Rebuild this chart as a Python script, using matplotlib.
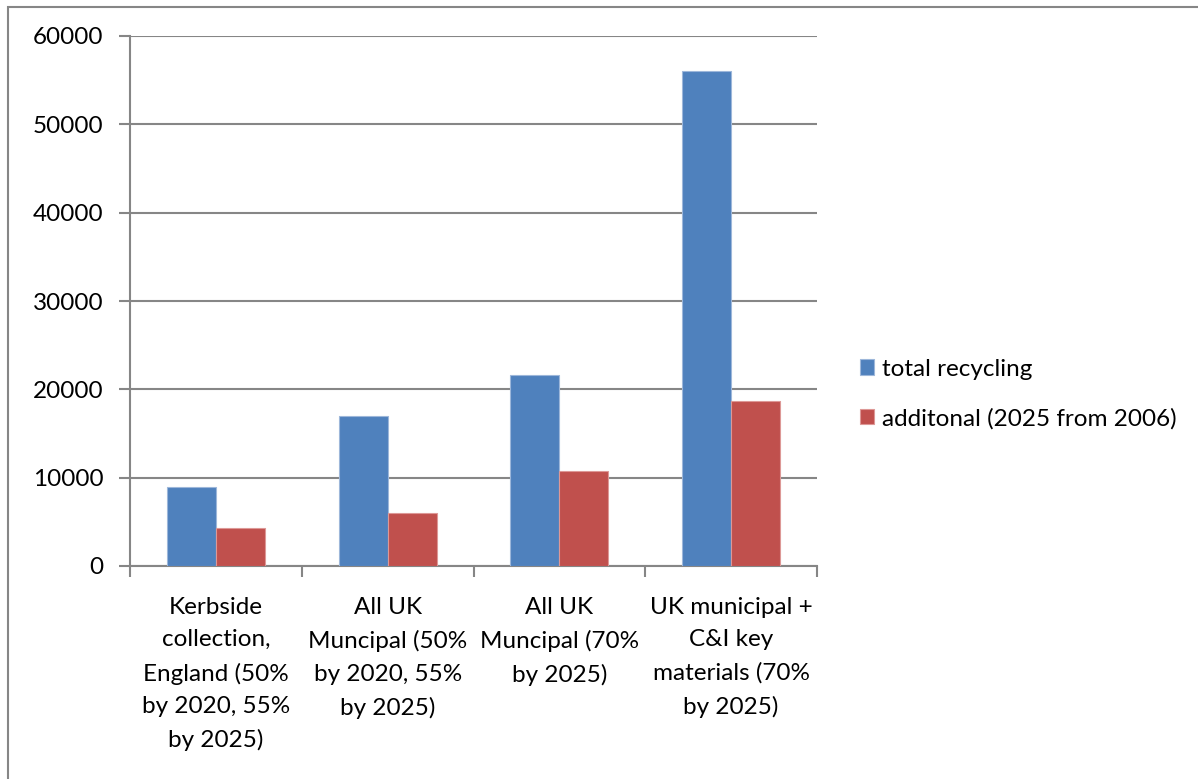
import numpy as np
import matplotlib.pyplot as plt
from matplotlib.patches import Rectangle

categories = [
    "Kerbside\ncollection,\nEngland (50%\nby 2020, 55%\nby 2025)",
    "All UK\nMuncipal (50%\nby 2020, 55%\nby 2025)",
    "All UK\nMuncipal (70%\nby 2025)",
    "UK municipal +\nC&I key\nmaterials (70%\nby 2025)",
]
total_recycling = [8900, 17000, 21650, 56000]
additional = [4250, 6050, 10750, 18650]
series_names = ["total recycling", "additonal (2025 from 2006)"]

plt.rcParams['font.family'] = ['Lato', 'DejaVu Sans']

fig = plt.figure(figsize=(11.98, 7.79), dpi=100)
ax = fig.add_axes([130 / 1198, 1 - 566 / 779, 687 / 1198, 530 / 779])

x = np.arange(len(categories))
w = 0.2857
ax.bar(x - w / 2, total_recycling, w, color='#4F81BD', edgecolor='#9DB7DA', linewidth=0.8,
       label=series_names[0], zorder=3)
ax.bar(x + w / 2, additional, w, color='#C0504D', edgecolor='#DD9896', linewidth=0.8,
       label=series_names[1], zorder=3)

ax.set_xlim(-0.5, 3.5)
ax.set_ylim(0, 60000)
ax.set_yticks(np.arange(0, 60001, 10000))
ax.yaxis.grid(True, color='#868686', linewidth=1.5, zorder=0)
ax.set_axisbelow(True)

ax.set_xticks(x)
ax.set_xticklabels(categories, fontsize=17.5, linespacing=1.68)
ax.set_xticks(np.arange(-0.5, 4.0, 1.0), minor=True)
ax.tick_params(axis='x', which='major', length=0, pad=22)
ax.tick_params(axis='x', which='minor', length=8, width=1.5, color='#868686')
ax.tick_params(axis='y', length=8, width=1.5, color='#868686', labelsize=17.5, pad=11)

for s in ['top', 'right']:
    ax.spines[s].set_visible(False)
for s in ['left', 'bottom']:
    ax.spines[s].set_color('#868686')
    ax.spines[s].set_linewidth(1.5)

leg = fig.legend(loc='center left', bbox_to_anchor=(850 / 1198, 1 - 394 / 779),
                 frameon=False, fontsize=17.5, handlelength=0.6, handleheight=0.6,
                 handletextpad=0.3, labelspacing=1.15, borderaxespad=0)

# outer chart border
fig.patches.append(Rectangle((8 / 1198, -0.1), 1.2, 1.1 - 7 / 779, transform=fig.transFigure,
                             fill=False, edgecolor='#868686', linewidth=1.5))

fig.savefig('out.png', dpi=100)
